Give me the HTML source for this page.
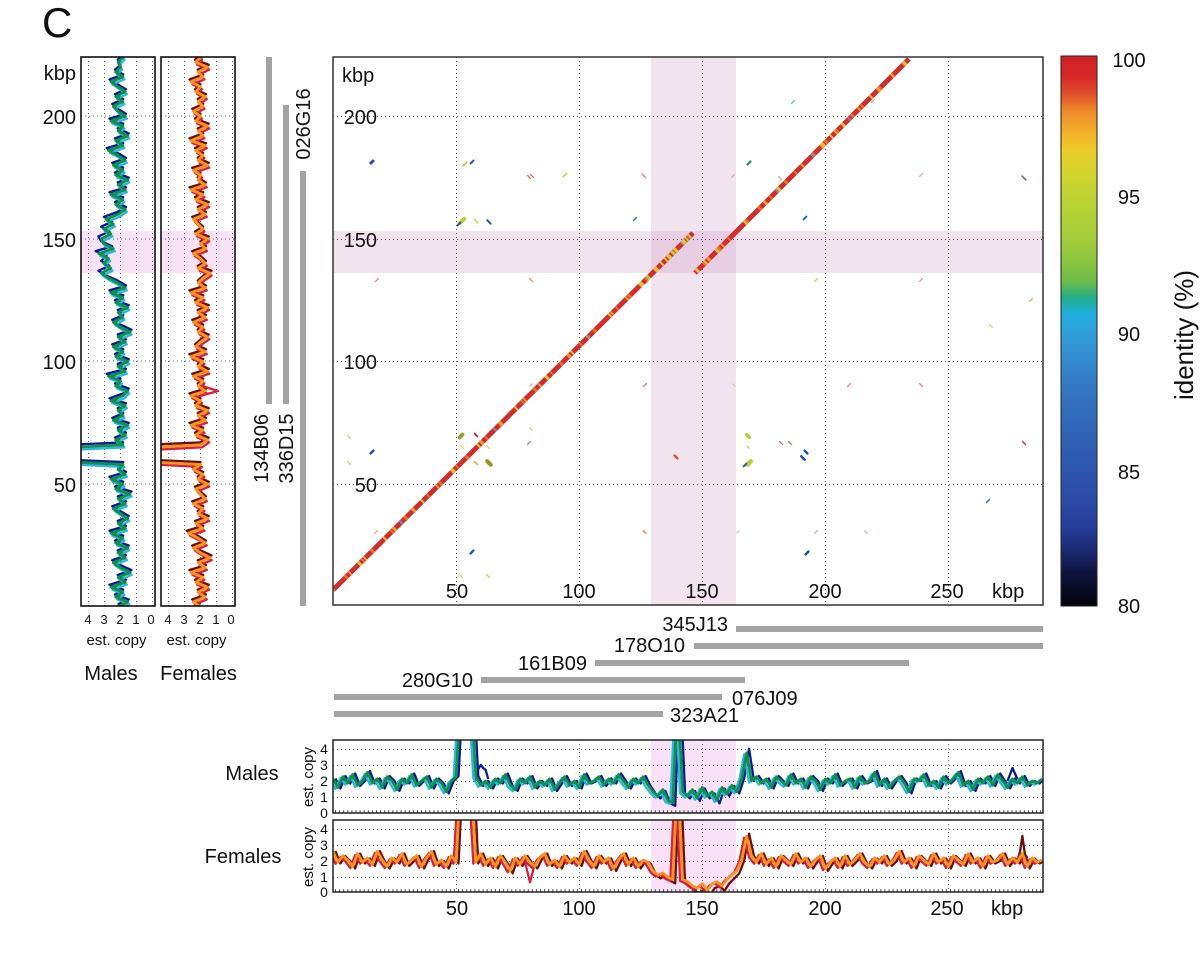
<!DOCTYPE html>
<html><head><meta charset="utf-8"><style>
html,body{margin:0;padding:0;background:#fff;}
svg{display:block;font-family:"Liberation Sans",Arial,sans-serif;}
</style></head><body>
<svg width="1200" height="964" viewBox="0 0 1200 964" xmlns="http://www.w3.org/2000/svg">
<defs>
<clipPath id="cm"><rect x="333" y="740" width="710" height="73"/></clipPath>
<clipPath id="cf"><rect x="333" y="820" width="710" height="72"/></clipPath>
<clipPath id="vm"><rect x="81" y="57" width="74" height="549"/></clipPath>
<clipPath id="vf"><rect x="161" y="57" width="74" height="549"/></clipPath>
<clipPath id="mp"><rect x="333" y="57" width="710" height="548"/></clipPath>
<linearGradient id="cb" x1="0" y1="0" x2="0" y2="1">
<stop offset="0" stop-color="#d01f26"/>
<stop offset="0.04" stop-color="#d82a28"/>
<stop offset="0.07" stop-color="#e0502a"/>
<stop offset="0.1" stop-color="#ee8a2a"/>
<stop offset="0.14" stop-color="#f2b22a"/>
<stop offset="0.17" stop-color="#eccb28"/>
<stop offset="0.22" stop-color="#cfd42e"/>
<stop offset="0.27" stop-color="#b8d234"/>
<stop offset="0.35" stop-color="#9cca3c"/>
<stop offset="0.41" stop-color="#6ebc48"/>
<stop offset="0.44" stop-color="#22ad8a"/>
<stop offset="0.47" stop-color="#20aee0"/>
<stop offset="0.52" stop-color="#3498d6"/>
<stop offset="0.6" stop-color="#3478c4"/>
<stop offset="0.7" stop-color="#3060b4"/>
<stop offset="0.8" stop-color="#2c4ca8"/>
<stop offset="0.86" stop-color="#263c98"/>
<stop offset="0.9" stop-color="#1c2870"/>
<stop offset="0.94" stop-color="#0e1440"/>
<stop offset="1" stop-color="#040408"/>
</linearGradient>
<path id="hm" fill="none" vector-effect="non-scaling-stroke" stroke-linejoin="round" transform="matrix(4.924,0,0,-2.16,333,824.2)" d="M0 21L1 17 2 22 3 19 4 23 5 18 6 20 7 24 8 19 9 21 10 17 11 22 12 20 13 16 14 21 15 19 16 23 17 18 18 20 19 22 20 17 21 21 22 19 23 15 24 20 25 22 26 60 27 60 28 60 29 22 30 18 31 20 32 17 33 21 34 19 35 23 36 18 37 16 38 21 39 19 40 22 41 17 42 20 43 18 44 21 45 16 46 19 47 22 48 18 49 20 50 17 51 23 52 19 53 20 54 22 55 18 56 21 57 19 58 23 59 20 60 17 61 21 62 19 63 22 64 18 65 15 66 13 67 16 68 11 69 10 70 60 71 15 72 13 73 16 74 12 75 17 76 13 77 15 78 11 79 17 80 14 81 18 82 15 83 21 84 33 85 20 86 22 87 19 88 21 89 17 90 22 91 20 92 18 93 23 94 19 95 21 96 17 97 22 98 20 99 16 100 21 101 19 102 23 103 18 104 20 105 21 106 17 107 22 108 19 109 20 110 24 111 18 112 21 113 17 114 20 115 22 116 19 117 15 118 21 119 20 120 23 121 18 122 20 123 17 124 22 125 19 126 21 127 24 128 18 129 20 130 16 131 21 132 19 133 22 134 18 135 23 136 20 137 17 138 21 139 19 140 22 141 18 142 20 143 19 144 21"/>
<path id="hf" fill="none" vector-effect="non-scaling-stroke" stroke-linejoin="round" transform="matrix(4.924,0,0,-2.16,333,903.2)" d="M0 24L1 19 2 22 3 20 4 17 5 23 6 19 7 21 8 18 9 24 10 20 11 17 12 21 13 19 14 23 15 18 16 20 17 22 18 17 19 21 20 24 21 18 22 20 23 17 24 22 25 19 26 60 27 60 28 60 29 19 30 23 31 18 32 21 33 17 34 22 35 19 36 15 37 21 38 18 39 22 40 19 41 17 42 21 43 23 44 18 45 20 46 17 47 22 48 19 49 21 50 18 51 24 52 20 53 17 54 22 55 19 56 21 57 16 58 20 59 23 60 18 61 21 62 17 63 20 64 19 65 15 66 13 67 14 68 12 69 11 70 60 71 11 72 10 73 8 74 7 75 9 76 6 77 9 78 10 79 8 80 11 81 13 82 15 83 20 84 31 85 22 86 19 87 23 88 18 89 21 90 17 91 22 92 20 93 18 94 23 95 19 96 21 97 17 98 20 99 22 100 16 101 19 102 21 103 17 104 22 105 18 106 20 107 23 108 19 109 17 110 21 111 19 112 22 113 18 114 20 115 24 116 19 117 21 118 17 119 22 120 20 121 18 122 23 123 19 124 21 125 17 126 22 127 20 128 18 129 23 130 19 131 21 132 17 133 22 134 19 135 20 136 23 137 18 138 21 139 19 140 23 141 17 142 21 143 19 144 20"/>
<path id="vmp" fill="none" vector-effect="non-scaling-stroke" stroke-linejoin="round" transform="matrix(-2.4,0,0,-4.906,168.5,606.8)" d="M21 0L17 1 22 2 19 3 24 4 18 5 21 6 16 7 20 8 23 9 18 10 21 11 17 12 22 13 19 14 24 15 18 16 21 17 17 18 20 19 23 20 18 21 21 22 16 23 22 24 19 25 24 26 18 27 21 28 19 29 60 30 60 31 60 32 19 33 22 34 18 35 21 36 17 37 23 38 19 39 21 40 18 41 24 42 19 43 17 44 22 45 20 46 25 47 18 48 21 49 17 50 22 51 19 52 23 53 18 54 21 55 16 56 20 57 23 58 19 59 21 60 17 61 22 62 19 63 24 64 18 65 21 66 25 67 28 68 24 69 27 70 25 71 29 72 23 73 27 74 28 75 24 76 27 77 23 78 26 79 21 80 18 81 22 82 19 83 24 84 18 85 21 86 17 87 22 88 19 89 23 90 18 91 21 92 25 93 19 94 22 95 17 96 21 97 19 98 24 99 18 100 21 101 23 102 19 103 22 104 18 105 21 106 24 107 19 108 22 109 20 110 21 111 19 112 20 113"/>
<path id="vfp" fill="none" vector-effect="non-scaling-stroke" stroke-linejoin="round" transform="matrix(-2.4,0,0,-4.906,248.5,606.8)" d="M20 0L23 1 18 2 21 3 17 4 22 5 19 6 24 7 18 8 21 9 16 10 20 11 23 12 18 13 21 14 25 15 19 16 22 17 17 18 21 19 19 20 23 21 18 22 20 23 22 24 17 25 21 26 19 27 23 28 20 29 60 30 60 31 60 32 20 33 17 34 22 35 19 36 24 37 18 38 21 39 17 40 22 41 20 42 24 43 18 44 21 45 19 46 23 47 17 48 21 49 19 50 24 51 18 52 22 53 20 54 17 55 21 56 19 57 23 58 18 59 21 60 17 61 22 62 19 63 24 64 18 65 21 66 19 67 16 68 21 69 18 70 20 71 23 72 18 73 20 74 17 75 22 76 19 77 21 78 23 79 18 80 21 81 17 82 22 83 19 84 24 85 18 86 21 87 20 88 23 89 17 90 21 91 19 92 22 93 18 94 24 95 19 96 21 97 17 98 22 99 20 100 23 101 19 102 21 103 18 104 22 105 20 106 24 107 19 108 21 109 17 110 22 111 20 112 21 113"/>
</defs>
<rect width="1200" height="964" fill="#fff"/>

<text x="42" y="37" font-size="42" fill="#111">C</text>

<!-- ===== Left vertical panels ===== -->
<rect x="81" y="231" width="74" height="42" fill="#f8e3f6"/>
<rect x="161" y="231" width="74" height="42" fill="#f8e3f6"/>
<g stroke="#666" stroke-width="1" stroke-dasharray="1 3" fill="none">
<path d="M88.5 57V606M104.5 57V606M120.5 57V606M136.5 57V606M152.5 57V606"/>
<path d="M168.5 57V606M184.5 57V606M200.5 57V606M216.5 57V606M232.5 57V606"/>
<path d="M81 116H155M81 239H155M81 361H155M81 484H155"/>
<path d="M161 116H235M161 239H235M161 361H235M161 484H235"/>
</g>
<g clip-path="url(#vm)">
<use href="#vmp" transform="matrix(1.15,0,0,1,-18.1,-2.45)" stroke="#0a1a9a" stroke-width="2.3"/>
<use href="#vmp" transform="translate(1.5,2.45)" stroke="#29b6e8" stroke-width="2.3"/>
<use href="#vmp" stroke="#0f9146" stroke-width="2.8"/>
</g>
<g clip-path="url(#vf)">
<use href="#vfp" transform="matrix(1.15,0,0,1,-30.1,-2.45)" stroke="#6e0d0d" stroke-width="2.3"/>
<use href="#vfp" transform="translate(1.5,2.45)" stroke="#d4213d" stroke-width="2.3"/>
<path d="M200 396L218 391 202 386" fill="none" stroke="#d4213d" stroke-width="2.3" stroke-linejoin="round"/>
<use href="#vfp" stroke="#f7941d" stroke-width="2.8"/>
</g>
<rect x="81" y="57" width="74" height="549" fill="none" stroke="#000" stroke-width="1.5"/>
<rect x="161" y="57" width="74" height="549" fill="none" stroke="#000" stroke-width="1.5"/>

<g font-size="20" fill="#111" text-anchor="end">
<text x="76" y="80">kbp</text>
<text x="76" y="124">200</text>
<text x="76" y="247">150</text>
<text x="76" y="369">100</text>
<text x="76" y="492">50</text>
</g>
<g font-size="13" fill="#111" text-anchor="middle">
<text x="88" y="624">4</text><text x="104" y="624">3</text><text x="120" y="624">2</text><text x="136" y="624">1</text><text x="151" y="624">0</text>
<text x="168" y="624">4</text><text x="184" y="624">3</text><text x="200" y="624">2</text><text x="216" y="624">1</text><text x="231" y="624">0</text>
</g>
<g font-size="15" fill="#111" text-anchor="middle">
<text x="116.5" y="645">est. copy</text>
<text x="196.5" y="645">est. copy</text>
</g>
<g font-size="20" fill="#111" text-anchor="middle">
<text x="111" y="680">Males</text>
<text x="198.5" y="680">Females</text>
</g>

<!-- vertical clone bars -->
<g fill="#a3a3a3">
<rect x="266" y="57" width="6" height="347"/>
<rect x="283" y="105" width="6" height="299"/>
<rect x="300" y="171" width="6" height="435"/>
</g>
<g font-size="20" fill="#111" text-anchor="middle">
<text transform="translate(310,124) rotate(-90)">026G16</text>
<text transform="translate(268,448.5) rotate(-90)">134B06</text>
<text transform="translate(293,448.5) rotate(-90)">336D15</text>
</g>

<!-- ===== Main dot plot ===== -->
<rect x="333" y="231" width="710" height="42" fill="rgba(190,120,175,0.2)"/>
<rect x="651" y="57" width="85" height="548" fill="rgba(190,120,175,0.2)"/>
<g stroke="#555" stroke-width="1" stroke-dasharray="1 3" fill="none">
<path d="M456.5 57V605M579.5 57V605M702.5 57V605M825.5 57V605M948.5 57V605"/>
<path d="M333 116.5H1043M333 239.5H1043M333 361.5H1043M333 484.5H1043"/>
</g>

<!-- scattered matches -->
<g fill="none" stroke-width="1.3" stroke-linecap="round">
<path d="M370.9 163.1l2.1 -2.1" stroke="#2a50a8" stroke-width="3"/>
<path d="M463.2 165.8l3.5 -3.5" stroke="#a8c838" stroke-width="1.6"/>
<path d="M470.6 163.4l2.8 -2.8" stroke="#2a50a8" stroke-width="2"/>
<path d="M527.6 175.6l2.8 2.8M530.6 174.6l2.8 2.8" stroke="#e06060"/>
<path d="M563.2 176.8l3.5 -3.5" stroke="#a8d040" stroke-width="1.4"/>
<path d="M642.2 174.2l3.5 3.5" stroke="#e08080"/>
<path d="M459.9 223.1l4.2 -4.2" stroke="#b8d030" stroke-width="4"/>
<path d="M457.6 225.4l2.8 -2.8" stroke="#2050b0" stroke-width="2"/>
<path d="M474.6 219.6l2.8 2.8" stroke="#c0d040" stroke-width="1.5"/>
<path d="M487.2 220.2l3.5 3.5" stroke="#2050b0" stroke-width="2"/>
<path d="M633.6 220.4l2.8 -2.8" stroke="#3070c0" stroke-width="1.5"/>
<path d="M375.6 281.4l2.8 -2.8" stroke="#f08080"/>
<path d="M529.6 278.6l2.8 2.8" stroke="#f08070"/>
<path d="M791.6 103.4l2.8 -2.8" stroke="#80b8e0" stroke-width="1.5"/>
<path d="M747.6 164.4l2.8 -2.8" stroke="#20a080" stroke-width="2.5"/>
<path d="M731.6 177.4l2.8 -2.8" stroke="#f0a0b0"/>
<path d="M778.6 176.6l2.8 2.8" stroke="#e0a080"/>
<path d="M919.6 176.4l2.8 -2.8" stroke="#f0a0a0"/>
<path d="M1022.2 176.2l3.5 3.5" stroke="#9060a0" stroke-width="1.8"/>
<path d="M803.6 219.4l2.8 -2.8" stroke="#2070c0" stroke-width="2"/>
<path d="M814.6 281.4l2.8 -2.8" stroke="#c0d070"/>
<path d="M919.6 281.4l2.8 -2.8" stroke="#f09090"/>
<path d="M1029.6 301.4l2.8 -2.8" stroke="#90d060"/>
<path d="M989.6 324.6l2.8 2.8" stroke="#e0d060"/>
<path d="M865.6 101.4l2.8 -2.8" stroke="#f0a080"/>
<path d="M871.6 102.4l2.8 -2.8" stroke="#f0a0a0"/>
<path d="M347.6 435.6l2.8 2.8M347.6 461.6l2.8 2.8" stroke="#d0d060"/>
<path d="M370.6 453.4l2.8 -2.8" stroke="#2050b0" stroke-width="2.5"/>
<path d="M374.6 533.4l2.8 -2.8" stroke="#f0a070"/>
<path d="M459.6 437.4l2.8 -2.8" stroke="#a0a030" stroke-width="4"/>
<path d="M474.6 433.6l2.8 2.8" stroke="#d02030" stroke-width="1.8"/>
<path d="M460.6 445.6l2.8 2.8M486.6 445.6l2.8 2.8" stroke="#e0d060"/>
<path d="M474.6 461.6l2.8 2.8" stroke="#f0a040" stroke-width="1.5"/>
<path d="M487.2 461.2l3.5 3.5" stroke="#a09020" stroke-width="4"/>
<path d="M530 386l2.1 -2.1" stroke="#f0a0a0"/>
<path d="M530 428l2.1 2.1" stroke="#f0c080"/>
<path d="M527.6 444.4l2.8 -2.8" stroke="#e07070"/>
<path d="M643.6 386.4l2.8 -2.8" stroke="#e06060"/>
<path d="M674.6 455.6l2.8 2.8" stroke="#e05030" stroke-width="2.5"/>
<path d="M643.6 530.6l2.8 2.8" stroke="#f0a070"/>
<path d="M470.6 553.4l2.8 -2.8" stroke="#2060b0" stroke-width="2.5"/>
<path d="M459.6 574.6l2.8 2.8" stroke="#e0d060"/>
<path d="M486.6 574.6l2.8 2.8" stroke="#d0c060"/>
<path d="M733 384l2.1 2.1" stroke="#f0c0a0"/>
<path d="M847.6 386.4l2.8 -2.8" stroke="#f08080"/>
<path d="M919.6 383.6l2.8 2.8" stroke="#f08080"/>
<path d="M746.6 434.6l2.8 2.8" stroke="#b8d030" stroke-width="3.5"/>
<path d="M747 446l2.1 2.1" stroke="#c0d060"/>
<path d="M747.2 464.8l3.5 -3.5" stroke="#b8d030" stroke-width="4.5"/>
<path d="M743.6 466.4l2.8 -2.8" stroke="#2050b0" stroke-width="1.8"/>
<path d="M779.6 441.6l2.8 2.8M788.6 441.6l2.8 2.8" stroke="#e06060"/>
<path d="M804.6 450.6l2.8 2.8" stroke="#2050b0" stroke-width="2.5"/>
<path d="M801.2 456.2l3.5 3.5" stroke="#2050b0" stroke-width="2.5"/>
<path d="M1022.6 441.6l2.8 2.8" stroke="#d03030" stroke-width="1.5"/>
<path d="M986.6 502.4l2.8 -2.8" stroke="#4070c0" stroke-width="1.5"/>
<path d="M643 531l2.1 2.1" stroke="#f09090"/>
<path d="M737 533l2.1 -2.1" stroke="#a0d0f0"/>
<path d="M814.6 533.4l2.8 -2.8" stroke="#f0a0a0"/>
<path d="M864.6 530.6l2.8 2.8" stroke="#e0b0c0"/>
<path d="M805.6 554.4l2.8 -2.8" stroke="#2050a0" stroke-width="2.5"/>
</g>

<!-- diagonal -->
<g clip-path="url(#mp)" fill="none" stroke-width="5">
<path d="M333 590L693 233" stroke="#d42b2b"/>
<path d="M333 590L693 233" stroke="#e8702a" stroke-dasharray="2 15 3 21 2 11 3 25 2 17 3 29"/>
<path d="M333 590L693 233" stroke="#f09a30" stroke-dasharray="3 31 2 19 2 39 3 24" stroke-dashoffset="11"/>
<path d="M333 590L693 233" stroke="#e2c23a" stroke-dasharray="2 41 3 33 2 51" stroke-dashoffset="7"/>
<path d="M333 590L693 233" stroke="#8088a8" stroke-dasharray="2 130" stroke-dashoffset="-95"/>
<path d="M640 285.6L693 233" stroke="#e2c23a" stroke-dasharray="4 6 3 8 4 5 2 7"/>
<path d="M640 285.6L693 233" stroke="#c8c838" stroke-dasharray="2 13 3 17" stroke-dashoffset="5"/>
<path d="M695 273L909 59" stroke="#d42b2b"/>
<path d="M695 273L909 59" stroke="#e8702a" stroke-dasharray="3 13 2 19 3 11 2 23 3 15" stroke-dashoffset="4"/>
<path d="M695 273L909 59" stroke="#f09a30" stroke-dasharray="2 25 3 17 2 31" stroke-dashoffset="9"/>
<path d="M695 273L909 59" stroke="#e2c23a" stroke-dasharray="3 9 2 14 3 37 2 45 3 60" stroke-dashoffset="-2"/>
<path d="M695 273L909 59" stroke="#8088a8" stroke-dasharray="2 48 2 50 2 120" stroke-dashoffset="-115"/>
</g>
<rect x="333" y="57" width="710" height="548" fill="none" stroke="#333" stroke-width="1.5"/>
<g font-size="20" fill="#111">
<text x="342" y="82">kbp</text>
<g text-anchor="end">
<text x="377" y="124">200</text>
<text x="377" y="247">150</text>
<text x="377" y="369">100</text>
<text x="377" y="492">50</text>
</g>
<g text-anchor="middle">
<text x="457" y="598">50</text>
<text x="579" y="598">100</text>
<text x="702" y="598">150</text>
<text x="825" y="598">200</text>
<text x="947" y="598">250</text>
</g>
<text x="992" y="598">kbp</text>
</g>

<!-- colorbar -->
<rect x="1061" y="56" width="36" height="550" fill="url(#cb)" stroke="#222" stroke-width="1"/>
<g font-size="20" fill="#111" text-anchor="middle">
<text x="1129" y="67">100</text>
<text x="1129" y="204">95</text>
<text x="1129" y="341">90</text>
<text x="1129" y="479">85</text>
<text x="1129" y="613">80</text>
</g>
<text transform="translate(1193,335) rotate(-90)" font-size="26" fill="#111" text-anchor="middle">identity (%)</text>

<!-- horizontal clone bars -->
<g fill="#a3a3a3">
<rect x="736" y="626" width="307" height="6"/>
<rect x="694" y="643" width="349" height="6"/>
<rect x="595" y="660" width="314" height="6"/>
<rect x="481" y="677" width="264" height="6"/>
<rect x="334" y="694" width="388" height="6"/>
<rect x="334" y="711" width="329" height="6"/>
</g>
<g font-size="20" fill="#111">
<text x="728" y="631" text-anchor="end">345J13</text>
<text x="685" y="652" text-anchor="end">178O10</text>
<text x="587" y="670" text-anchor="end">161B09</text>
<text x="473" y="687" text-anchor="end">280G10</text>
<text x="732" y="705">076J09</text>
<text x="670" y="722">323A21</text>
</g>

<!-- ===== Bottom panels ===== -->
<rect x="651" y="740" width="85" height="73" fill="#f9e2f8"/>
<rect x="651" y="820" width="85" height="72" fill="#f9e2f8"/>
<g stroke="#666" stroke-width="1" stroke-dasharray="1 3" fill="none">
<path d="M456.5 740V813M579.5 740V813M702.5 740V813M825.5 740V813M948.5 740V813"/>
<path d="M456.5 820V892M579.5 820V892M702.5 820V892M825.5 820V892M948.5 820V892"/>
<path d="M333 749.5H1043M333 765.5H1043M333 781.5H1043M333 797.5H1043"/>
<path d="M333 829.5H1043M333 845.5H1043M333 861.5H1043M333 877.5H1043"/>
</g>
<path d="M335 811.5H1043M335 890.5H1043" stroke="#444" stroke-width="2.5" stroke-dasharray="1 3.1" fill="none"/>
<g clip-path="url(#cm)">
<use href="#hm" transform="matrix(1,0,0,1.15,2.46,-117.15)" stroke="#0a1a9a" stroke-width="2.3"/>
<path d="M475.8 781L478.3 769 480.8 765 483.2 768 485.7 770 488.2 779M1007.5 781L1012.5 768 1017.4 779" fill="none" stroke="#0a1a9a" stroke-width="2.3" stroke-linejoin="round"/>
<use href="#hm" transform="translate(-2.46,1.5)" stroke="#29b6e8" stroke-width="2.3"/>
<use href="#hm" stroke="#0f9146" stroke-width="2.8"/>
</g>
<g clip-path="url(#cf)">
<use href="#hf" transform="matrix(1,0,0,1.15,2.46,-128)" stroke="#6e0d0d" stroke-width="2.3"/>
<path d="M1017.5 860L1020 852 1022.4 836 1025 855 1027.4 858" fill="none" stroke="#6e0d0d" stroke-width="2.3" stroke-linejoin="round"/>
<use href="#hf" transform="translate(-2.46,1.5)" stroke="#d4213d" stroke-width="2.3"/>
<path d="M525 861.6L530 882.4 535 863" fill="none" stroke="#d4213d" stroke-width="2.3" stroke-linejoin="round"/>
<use href="#hf" stroke="#f7941d" stroke-width="2.8"/>
</g>
<rect x="333" y="740" width="710" height="73" fill="none" stroke="#222" stroke-width="1.5"/>
<rect x="333" y="820" width="710" height="72" fill="none" stroke="#222" stroke-width="1.5"/>
<g font-size="14" fill="#111" text-anchor="middle">
<text x="324" y="754">4</text><text x="324" y="770">3</text><text x="324" y="786">2</text><text x="324" y="802">1</text><text x="324" y="818">0</text>
<text x="324" y="834">4</text><text x="324" y="850">3</text><text x="324" y="866">2</text><text x="324" y="882">1</text><text x="324" y="897">0</text>
</g>
<g font-size="15" fill="#111" text-anchor="middle">
<text transform="translate(313,777) rotate(-90)">est. copy</text>
<text transform="translate(313,857) rotate(-90)">est. copy</text>
</g>
<g font-size="20" fill="#111" text-anchor="middle">
<text x="252" y="780">Males</text>
<text x="243" y="863">Females</text>
<text x="457" y="915">50</text>
<text x="579" y="915">100</text>
<text x="702" y="915">150</text>
<text x="825" y="915">200</text>
<text x="947" y="915">250</text>
</g>
<text x="991" y="915" font-size="20" fill="#111">kbp</text>
</svg>
</body></html>
